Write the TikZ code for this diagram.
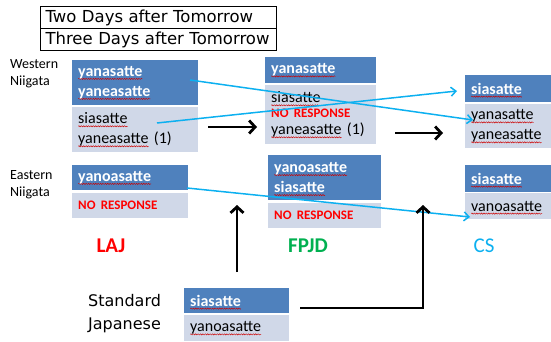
\documentclass[tikz,border=0pt]{standalone}
\usepackage{fontspec}
\setmainfont{Carlito}
\newfontfamily\gothic{DejaVu Sans}
\usetikzlibrary{arrows.meta,decorations.pathmorphing}
\definecolor{dk}{HTML}{4F81BD}
\definecolor{lt}{HTML}{D0D8E8}
\definecolor{cy}{HTML}{0CB0F0}
\definecolor{nr}{HTML}{FF0000}
\definecolor{gr}{HTML}{00B050}
\newsavebox\sqbox
\newcommand\sqw[1]{\leavevmode\sbox\sqbox{#1}\rlap{\tikz[overlay]\draw[red!80!black,line width=0.45pt,decorate,decoration={snake,amplitude=0.6pt,segment length=2.4pt}] (0pt,-2.4pt)--(\the\wd\sqbox,-2.4pt);}\usebox\sqbox}
\newcommand\nores{{\color{nr}\bfseries\fontsize{13}{15}\selectfont NO RESPONSE}}
\begin{document}
\begin{tikzpicture}[x=1pt,y=-1pt,
  box/.style={anchor=north west,inner xsep=6pt,inner ysep=0pt,align=left,font=\fontsize{16}{20}\selectfont},
  dkbox/.style={box,fill=dk,text=white,font=\bfseries\fontsize{16}{20}\selectfont},
  ltbox/.style={box,fill=lt,text=black},
  legbox/.style={draw=black,line width=1pt,anchor=north west,inner xsep=5pt,inner ysep=0pt,text width=226pt,minimum height=22pt,align=left,font=\gothic\fontsize{16.5}{18}\selectfont},
  lbl/.style={anchor=west,inner sep=0pt,align=left,font=\fontsize{14}{17}\selectfont},
  glbl/.style={anchor=west,inner sep=0pt,align=left,font=\gothic\fontsize{16}{23}\selectfont},
  grp/.style={font=\bfseries\fontsize{21}{24}\selectfont},
  blue/.style={draw=cy,line width=1.5pt,-{Straight Barb[length=5pt,width=9pt]}},
  blk/.style={draw=black,line width=2.8pt,-{Straight Barb[length=6pt,width=13pt]}}]
\useasboundingbox (0,0) rectangle (551,342);
% legend
\node[legbox] (leg1) at (40,6) {Two Days after Tomorrow};
\node[legbox] (leg2) at (40,28) {Three Days after Tomorrow};
% side labels
\node[lbl] (wn) at (10,73.5) {Western\\Niigata};
\node[lbl] (en) at (10,185) {Eastern\\Niigata};
\node[glbl] (sj) at (88,313.5) {Standard\\Japanese};
% LAJ
\node[dkbox,text width=114pt,minimum height=45pt] (lajwd) at (72,60) {\sqw{yanasatte}\\\sqw{yaneasatte}};
\node[ltbox,text width=114pt,minimum height=45pt] (lajwl) at (72,107) {\sqw{siasatte}\\\sqw{yaneasatte} (1)};
\node[dkbox,text width=104pt,minimum height=25pt] (lajed) at (72,165) {\sqw{yanoasatte}};
\node[ltbox,text width=104pt,minimum height=25pt] (lajel) at (72,193) {\nores};
% FPJD
\node[dkbox,text width=99pt,minimum height=26pt] (fpwd) at (265,57) {\sqw{yanasatte}};
\node[ltbox,text width=99pt,minimum height=59pt] (fpwl) at (265,85) {\sqw{siasatte}\\[-5pt]\nores\\[-3pt]\sqw{yaneasatte} (1)};
\node[dkbox,text width=101pt,minimum height=45pt] (fped) at (268,155) {\sqw{yanoasatte}\\\sqw{siasatte}};
\node[ltbox,text width=101pt,minimum height=25pt] (fpel) at (268,203) {\nores};
% CS
\node[dkbox,text width=74pt,minimum height=27pt] (cswd) at (465,75) {\sqw{siasatte}};
\node[ltbox,text width=74pt,minimum height=44pt] (cswl) at (465,104) {\sqw{yanasatte}\\\sqw{yaneasatte}};
\node[dkbox,text width=74pt,minimum height=27pt] (csed) at (465,165) {\sqw{siasatte}};
\node[ltbox,text width=74pt,minimum height=26pt] (csel) at (465,193) {\sqw{vanoasatte}};
% Standard Japanese
\node[dkbox,text width=93pt,minimum height=25pt] (sjd) at (184,288) {\sqw{siasatte}};
\node[ltbox,text width=93pt,minimum height=26pt] (sjl) at (184,315) {\sqw{yanoasatte}};
% group labels
\node[grp,text=nr] (laj) at (111,246) {LAJ};
\node[grp,text=gr] (fpjd) at (308,246) {FPJD};
\node[font=\fontsize{21}{24}\selectfont,text=cy] (cs) at (484,246) {CS};
% coordinates
\coordinate (b1s) at (190,80);
\coordinate (b1e) at (473,120);
\coordinate (b2s) at (157,123);
\coordinate (b2e) at (457,91);
\coordinate (b3s) at (187,188);
\coordinate (b3e) at (470,217);
\coordinate (a1s) at (208,127);
\coordinate (a1e) at (257,127);
\coordinate (a2s) at (395,133);
\coordinate (a2e) at (443,133);
\coordinate (v1s) at (237,272);
\coordinate (v1e) at (237,205);
\coordinate (v2s) at (300,308);
\coordinate (v2e) at (423,205);
% arrows
\draw[blue] (b1s) -- (b1e);
\draw[blue] (b2s) -- (b2e);
\draw[blue] (b3s) -- (b3e);
\draw[blk] (a1s) -- (a1e);
\draw[blk] (a2s) -- (a2e);
\draw[blk] (v1s) -- (v1e);
\draw[blk] (v2s) -| (v2e);
\end{tikzpicture}
\end{document}
